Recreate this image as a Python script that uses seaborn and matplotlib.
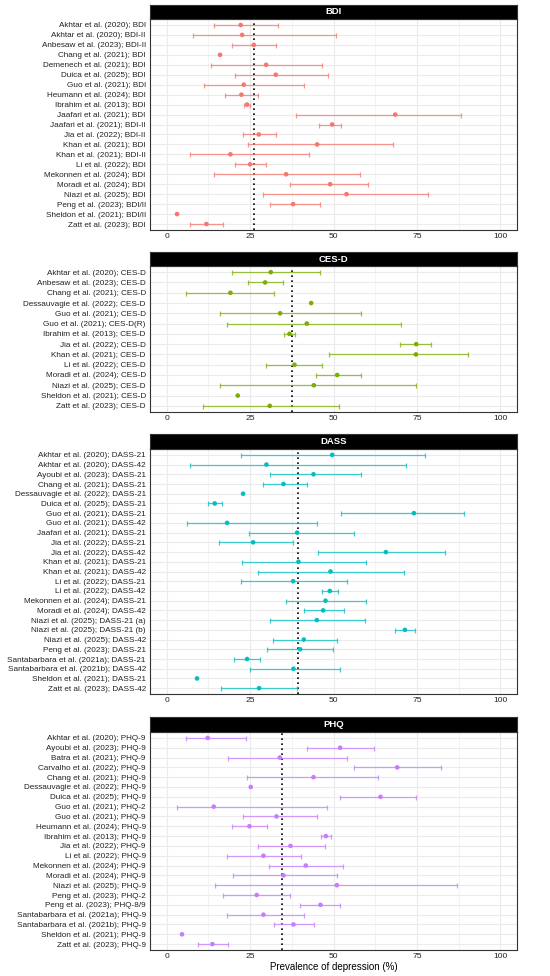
import numpy as np
import pandas as pd
import matplotlib
matplotlib.use('Agg')
import matplotlib.pyplot as plt
import seaborn as sns

# ---- data ----
bdi_labels = ['Akhtar et al. (2020); BDI', 'Akhtar et al. (2020); BDI-II', 'Anbesaw et al. (2023); BDI-II',
              'Chang et al. (2021); BDI', 'Demenech et al. (2021); BDI', 'Duica et al. (2025); BDI',
              'Guo et al. (2021); BDI', 'Heumann et al. (2024); BDI', 'Ibrahim et al. (2013); BDI',
              'Jaafari et al. (2021); BDI', 'Jaafari et al. (2021); BDI-II', 'Jia et al. (2022); BDI-II',
              'Khan et al. (2021); BDI', 'Khan et al. (2021); BDI-II', 'Li et al. (2022); BDI',
              'Mekonnen et al. (2024); BDI', 'Moradi et al. (2024); BDI', 'Niazi et al. (2025); BDI',
              'Peng et al. (2023); BDI/II', 'Sheldon et al. (2021); BDI/II', 'Zatt et al. (2023); BDI']
bdi_est = [22.2, 22.6, 26.1, 16.0, 29.8, 32.7, 23.1, 22.4, 24.1, 68.5, 49.6, 27.6, 45.1, 19.1, 25.0,
           35.8, 49.0, 53.9, 37.9, 3.1, 11.9]
bdi_lo = [14.2, 8.0, 19.6, np.nan, 13.4, 20.6, 11.2, 17.4, 23.2, 38.8, 45.8, 22.9, 24.4, 7.0, 20.6,
          14.2, 36.9, 28.8, 30.9, np.nan, 7.0]
bdi_hi = [33.4, 50.6, 32.9, np.nan, 46.7, 48.5, 41.1, 27.3, 25.0, 88.2, 52.3, 32.9, 67.7, 42.6, 29.7,
          57.9, 60.3, 78.3, 46.1, np.nan, 16.8]

cesd_labels = ['Akhtar et al. (2020); CES-D', 'Anbesaw et al. (2023); CES-D', 'Chang et al. (2021); CES-D',
               'Dessauvagie et al. (2022); CES-D', 'Guo et al. (2021); CES-D', 'Guo et al. (2021); CES-D(R)',
               'Ibrahim et al. (2013); CES-D', 'Jia et al. (2022); CES-D', 'Khan et al. (2021); CES-D',
               'Li et al. (2022); CES-D', 'Moradi et al. (2024); CES-D', 'Niazi et al. (2025); CES-D',
               'Sheldon et al. (2021); CES-D', 'Zatt et al. (2023); CES-D']
cesd_est = [31.2, 29.5, 19.1, 43.3, 34.0, 42.0, 36.8, 74.8, 74.7, 38.3, 51.1, 44.1, 21.3, 30.9]
cesd_lo = [19.7, 24.3, 5.8, np.nan, 16.1, 18.2, 35.2, 69.9, 48.7, 29.7, 44.9, 16.0, np.nan, 10.9]
cesd_hi = [46.1, 34.9, 32.1, np.nan, 58.2, 70.2, 38.5, 79.2, 90.3, 46.7, 58.2, 74.8, np.nan, 51.6]

dass_labels = ['Akhtar et al. (2020); DASS-21', 'Akhtar et al. (2020); DASS-42', 'Ayoubi et al. (2023); DASS-21',
               'Chang et al. (2021); DASS-21', 'Dessauvagie et al. (2022); DASS-21', 'Duica et al. (2025); DASS-21',
               'Guo et al. (2021); DASS-21', 'Guo et al. (2021); DASS-42', 'Jaafari et al. (2021); DASS-21',
               'Jia et al. (2022); DASS-21', 'Jia et al. (2022); DASS-42', 'Khan et al. (2021); DASS-21',
               'Khan et al. (2021); DASS-42', 'Li et al. (2022); DASS-21', 'Li et al. (2022); DASS-42',
               'Mekonnen et al. (2024); DASS-21', 'Moradi et al. (2024); DASS-42', 'Niazi et al. (2025); DASS-21 (a)',
               'Niazi et al. (2025); DASS-21 (b)', 'Niazi et al. (2025); DASS-42', 'Peng et al. (2023); DASS-21',
               'Santabarbara et al. (2021a); DASS-21', 'Santabarbara et al. (2021b); DASS-42',
               'Sheldon et al. (2021); DASS-21', 'Zatt et al. (2023); DASS-42']
dass_est = [49.6, 29.9, 44.0, 35.0, 22.9, 14.4, 74.1, 18.1, 39.1, 25.9, 65.7, 39.5, 49.1, 37.9, 48.9,
            47.6, 46.9, 45.0, 71.4, 41.1, 40.0, 24.1, 38.0, 9.1, 27.7]
dass_lo = [22.2, 6.9, 31.0, 29.0, np.nan, 12.3, 52.1, 6.0, 24.7, 15.8, 45.3, 22.7, 27.5, 22.2, 46.7,
           35.7, 41.1, 31.1, 68.3, 31.8, 30.0, 20.1, 25.0, np.nan, 16.4]
dass_hi = [77.5, 71.6, 58.1, 42.0, np.nan, 16.7, 89.1, 45.0, 56.2, 37.9, 83.3, 59.6, 71.2, 53.9, 51.3,
           59.7, 53.1, 59.4, 74.3, 51.1, 49.9, 28.0, 52.0, np.nan, 39.1]

phq_labels = ['Akhtar et al. (2020); PHQ-9', 'Ayoubi et al. (2023); PHQ-9', 'Batra et al. (2021); PHQ-9',
              'Carvalho et al. (2022); PHQ-9', 'Chang et al. (2021); PHQ-9', 'Dessauvagie et al. (2022); PHQ-9',
              'Duica et al. (2025); PHQ-9', 'Guo et al. (2021); PHQ-2', 'Guo et al. (2021); PHQ-9',
              'Heumann et al. (2024); PHQ-9', 'Ibrahim et al. (2013); PHQ-9', 'Jia et al. (2022); PHQ-9',
              'Li et al. (2022); PHQ-9', 'Mekonnen et al. (2024); PHQ-9', 'Moradi et al. (2024); PHQ-9',
              'Niazi et al. (2025); PHQ-9', 'Peng et al. (2023); PHQ-2', 'Peng et al. (2023); PHQ-8/9',
              'Santabarbara et al. (2021a); PHQ-9', 'Santabarbara et al. (2021b); PHQ-9',
              'Sheldon et al. (2021); PHQ-9', 'Zatt et al. (2023); PHQ-9']
phq_est = [12.3, 52.0, 33.9, 69.1, 44.0, 25.2, 64.1, 14.1, 32.9, 24.8, 47.7, 37.1, 29.0, 41.7, 35.0,
           51.0, 27.0, 46.1, 29.0, 38.0, 4.6, 13.7]
phq_lo = [5.9, 42.1, 18.4, 56.0, 24.2, np.nan, 52.0, 3.0, 22.9, 19.6, 46.3, 27.4, 18.2, 30.6, 20.0,
          14.5, 17.0, 40.1, 18.1, 32.1, np.nan, 9.3]
phq_hi = [23.7, 62.2, 54.0, 82.1, 63.2, np.nan, 74.6, 48.1, 45.0, 30.1, 49.2, 47.4, 40.4, 52.9, 51.1,
          87.0, 37.0, 52.0, 41.1, 44.1, np.nan, 18.4]

instruments = ['BDI', 'CES-D', 'DASS', 'PHQ']
pooled = [26.1, 37.7, 39.5, 34.6]
colors = ['#F8766D', '#7CAE00', '#00BFC4', '#C77CFF']

frames = []
for inst, lab, est, lo, hi in zip(instruments,
                                  [bdi_labels, cesd_labels, dass_labels, phq_labels],
                                  [bdi_est, cesd_est, dass_est, phq_est],
                                  [bdi_lo, cesd_lo, dass_lo, phq_lo],
                                  [bdi_hi, cesd_hi, dass_hi, phq_hi]):
    d = pd.DataFrame({'study': lab, 'est': est, 'lo': lo, 'hi': hi})
    d['instrument'] = inst
    d['row'] = np.arange(len(d))
    frames.append(d)
df = pd.concat(frames, ignore_index=True)

# ---- style ----
sns.set_theme(style='white')
plt.rcParams['font.family'] = ['Liberation Sans', 'DejaVu Sans']

W, H = 550, 976
fig = plt.figure(figsize=(W / 100, H / 100), dpi=100)

# pixel layout: (strip top, panel top, panel bottom)
layout = [(5, 19, 230), (252, 266, 412), (434, 449, 694), (717, 732, 950)]
left, right = 150, 517

for i, inst in enumerate(instruments):
    s_top, p_top, p_bot = layout[i]
    d = df[df['instrument'] == inst]
    n = len(d)
    col = colors[i]

    ax = fig.add_axes([left / W, 1 - p_bot / H, (right - left) / W, (p_bot - p_top) / H])
    sax = fig.add_axes([left / W, 1 - p_top / H, (right - left) / W, (p_top - s_top) / H])

    ax.axvline(pooled[i], color='black', linestyle=(0, (1, 2)), linewidth=1.2, zorder=2)

    ci = d.dropna(subset=['lo', 'hi'])
    ax.errorbar(ci['est'], ci['row'],
                xerr=[ci['est'] - ci['lo'], ci['hi'] - ci['est']],
                fmt='none', ecolor=col, elinewidth=0.9, capsize=1.8, capthick=0.9,
                alpha=0.75, zorder=3)
    sns.scatterplot(data=d, x='est', y='row', color=col, s=11, edgecolor='none',
                    ax=ax, zorder=4, legend=False)

    ax.set_xlim(-5, 105)
    ax.set_ylim(n - 1 + 0.6, -0.6)
    ax.set_xticks([0, 25, 50, 75, 100])
    ax.set_xticks([12.5, 37.5, 62.5, 87.5], minor=True)
    ax.set_yticks(d['row'])
    ax.set_yticklabels(d['study'])
    ax.grid(which='major', color='#EBEBEB', linewidth=0.8)
    ax.grid(which='minor', axis='x', color='#EBEBEB', linewidth=0.4)
    ax.set_axisbelow(True)
    ax.tick_params(axis='both', which='major', length=2, width=0.6, color='#333333',
                   labelsize=5.9, labelcolor='#222222', pad=1)
    ax.tick_params(axis='x', which='major', pad=0.5, labelsize=6.1)
    ax.tick_params(axis='x', which='minor', length=0)
    for sp in ax.spines.values():
        sp.set_color('#333333')
        sp.set_linewidth(0.8)
    ax.set_ylabel('')
    ax.set_xlabel('Prevalence of depression (%)' if i == len(instruments) - 1 else '',
                  fontsize=7, color='black', labelpad=1)

    sax.set_facecolor('black')
    sax.set_xticks([])
    sax.set_yticks([])
    for sp in sax.spines.values():
        sp.set_color('#333333')
        sp.set_linewidth(0.8)
    sax.text(0.5, 0.5, inst, transform=sax.transAxes, ha='center', va='center',
             color='white', fontsize=6.8, fontweight='bold')

fig.savefig('out.png', dpi=100)
